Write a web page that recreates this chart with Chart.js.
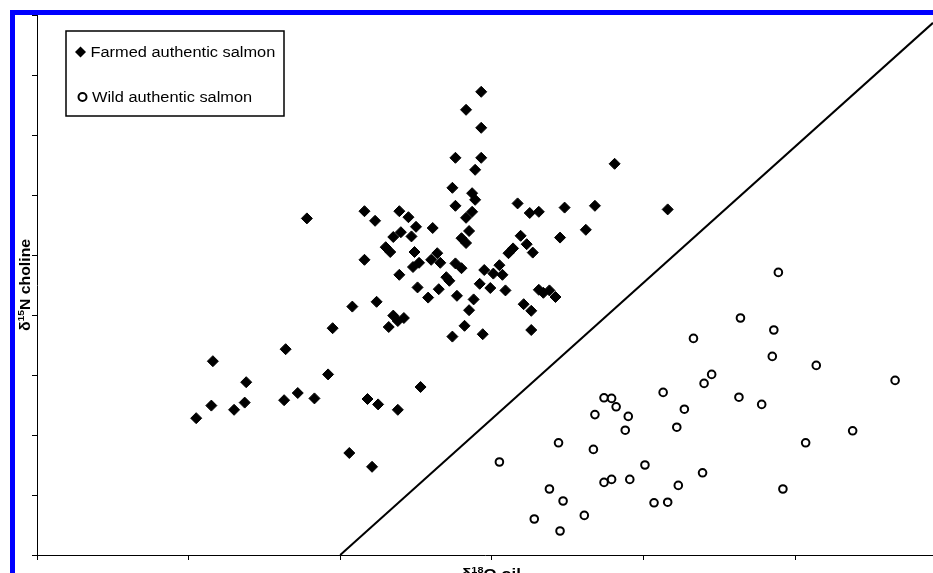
<!DOCTYPE html>
<html>
<head>
<meta charset="utf-8">
<script src="https://cdn.jsdelivr.net/npm/chart.js@4"></script>
<style>
html, body { margin: 0; padding: 0; background: #fff; overflow: hidden; }
#wrap { position: relative; width: 933px; height: 573px; }
</style>
</head>
<body>
<div id="wrap"><canvas id="salmon-graph" width="933" height="573"></canvas></div>
<script>
// axis units: one tick interval = 1 (the original has no tick labels)
const farmedX = [2.93, 2.83, 2.93, 2.76, 2.93, 2.89, 2.74, 2.87, 2.89, 2.76, 2.87, 2.83,
    2.16, 2.39, 2.45, 2.23, 2.50, 2.61, 2.40, 2.35, 2.47, 2.85, 2.80, 2.83, 2.30, 2.33,
    2.49, 2.64, 2.60, 2.66, 2.52, 2.48, 2.16, 2.76, 2.80, 2.39, 2.70, 2.72, 2.95, 3.01,
    3.05, 2.92, 2.99, 2.51, 2.65, 2.58, 2.77, 2.88, 2.08, 2.24, 2.85, 2.35, 2.42, 2.38,
    2.32, 2.82, 2.74, 2.94, 3.81, 3.17, 3.25, 3.31, 3.48, 3.68, 4.16, 3.62, 3.45, 3.19,
    3.23, 3.27, 3.14, 3.11, 3.07, 3.09, 3.31, 3.34, 3.38, 3.42, 3.21, 3.26, 3.26, 1.16,
    1.64, 1.38, 1.92, 1.15, 1.05, 1.30, 1.37, 1.63, 1.72, 1.83, 2.18, 2.25, 2.38, 2.53,
    2.06, 2.21, 1.95, 1.78];
const farmedY = [7.72, 7.42, 7.12, 6.62, 6.62, 6.42, 6.12, 6.03, 5.92, 5.82, 5.72, 5.62,
    5.73, 5.73, 5.63, 5.57, 5.47, 5.45, 5.38, 5.30, 5.31, 5.40, 5.28, 5.20, 5.13, 5.05,
    5.05, 5.03, 4.92, 4.87, 4.87, 4.80, 4.92, 4.86, 4.78, 4.67, 4.63, 4.57, 4.75, 4.69,
    4.83, 4.52, 4.45, 4.46, 4.43, 4.29, 4.32, 4.26, 4.14, 4.22, 4.08, 3.99, 3.95, 3.90,
    3.80, 3.82, 3.64, 3.68, 6.52, 5.86, 5.70, 5.72, 5.79, 5.82, 5.76, 5.42, 5.29, 5.32,
    5.18, 5.04, 5.11, 5.03, 4.67, 4.41, 4.42, 4.37, 4.41, 4.30, 4.18, 4.07, 3.75, 3.23,
    3.43, 2.88, 3.01, 2.49, 2.28, 2.42, 2.54, 2.58, 2.70, 2.61, 2.60, 2.51, 2.42, 2.80,
    1.70, 1.47, 3.78, 5.61];

const wildX = [4.89, 4.64, 4.86, 4.33, 4.85, 5.14, 4.45, 4.40, 5.66, 4.13, 3.74, 3.79,
    4.63, 4.78, 3.82, 3.68, 3.90, 4.27, 4.22, 3.88, 5.38, 3.44, 5.07, 3.67, 3.05, 4.01,
    4.39, 3.74, 3.79, 3.91, 4.23, 3.38, 4.92, 3.47, 4.07, 4.16, 3.61, 3.28, 3.45];
const wildY = [4.71, 3.95, 3.75, 3.61, 3.31, 3.16, 3.01, 2.86, 2.91, 2.71, 2.62, 2.61,
    2.63, 2.51, 2.47, 2.34, 2.31, 2.43, 2.13, 2.08, 2.07, 1.87, 1.87, 1.76, 1.55, 1.50,
    1.37, 1.21, 1.26, 1.26, 1.16, 1.10, 1.10, 0.90, 0.87, 0.88, 0.66, 0.60, 0.40];

// separating line
const lineX = [2.0, 5.91];
const lineY = [0, 8.87];

const xMin = 0, xMax = 5.91, xStep = 1;
const yMin = 0, yMax = 9, yStep = 1;

const seriesNames = ["Farmed authentic salmon", "Wild authentic salmon"];

function toPoints(xs, ys) {
    let pts = Array(xs.length);
    for (let i = 0; i < xs.length; i++) {
        pts[i] = { x: xs[i], y: ys[i] };
    }
    return pts;
}

// draws text stretched along its own direction, with superscript parts
function drawRich(ctx, parts, size, stretch) {
    let total = 0;
    for (let p of parts) {
        ctx.font = "bold " + (p[1] ? size * 0.65 : size) + "px 'Liberation Sans', Arial, sans-serif";
        p.w = ctx.measureText(p[0]).width;
        total += p.w;
    }
    ctx.scale(stretch, 1);
    let x = -total / 2;
    for (let p of parts) {
        ctx.font = "bold " + (p[1] ? size * 0.65 : size) + "px 'Liberation Sans', Arial, sans-serif";
        ctx.fillText(p[0], x, p[1] ? -size * 0.42 : 0);
        x += p.w;
    }
}

const decor = {
    id: "decor",
    afterDraw(chart) {
        let ctx = chart.ctx;
        let area = chart.chartArea;
        ctx.save();
        ctx.fillStyle = "#000";
        ctx.textBaseline = "alphabetic";

        // y title
        ctx.save();
        ctx.translate(29.5, (area.top + area.bottom) / 2);
        ctx.rotate(-Math.PI / 2);
        drawRich(ctx, [["δ", false], ["15", true], ["N choline", false]], 14, 1.13);
        ctx.restore();

        // x title (mostly cut off at the bottom edge)
        ctx.save();
        ctx.translate((area.left + area.right) / 2 + 6, 579);
        drawRich(ctx, [["δ", false], ["18", true], ["O oil", false]], 14, 1.2);
        ctx.restore();

        // legend box
        ctx.fillStyle = "#fff";
        ctx.fillRect(66, 31, 218, 85);
        ctx.strokeStyle = "#000";
        ctx.lineWidth = 1.5;
        ctx.strokeRect(66, 31, 218, 85);

        ctx.fillStyle = "#000";
        ctx.beginPath();
        ctx.moveTo(75, 52); ctx.lineTo(80.5, 46.5); ctx.lineTo(86, 52); ctx.lineTo(80.5, 57.5);
        ctx.closePath();
        ctx.fill();

        ctx.beginPath();
        ctx.arc(82.5, 97, 4, 0, Math.PI * 2);
        ctx.lineWidth = 2;
        ctx.stroke();

        ctx.font = "14px 'Liberation Sans', Arial, sans-serif";
        ctx.save();
        ctx.translate(90.5, 57);
        ctx.scale(1.17, 1);
        ctx.fillText(seriesNames[0], 0, 0);
        ctx.restore();
        ctx.save();
        ctx.translate(92, 102);
        ctx.scale(1.17, 1);
        ctx.fillText(seriesNames[1], 0, 0);
        ctx.restore();

        // blue frame
        ctx.fillStyle = "#0000ff";
        ctx.fillRect(10, 10, 923, 5);
        ctx.fillRect(10, 10, 5, 563);
        ctx.restore();
    }
};

new Chart(document.getElementById("salmon-graph"), {
    type: "scatter",
    data: {
        datasets: [{
            label: seriesNames[0],
            data: toPoints(farmedX, farmedY),
            pointStyle: "rectRot",
            pointRadius: 5.5,
            backgroundColor: "#000",
            borderColor: "#000",
            borderWidth: 1
        }, {
            label: seriesNames[1],
            data: toPoints(wildX, wildY),
            pointStyle: "circle",
            pointRadius: 3.8,
            backgroundColor: "#fff",
            borderColor: "#000",
            borderWidth: 2
        }, {
            type: "line",
            label: "boundary",
            data: toPoints(lineX, lineY),
            showLine: true,
            pointRadius: 0,
            borderColor: "#000",
            borderWidth: 2,
            fill: false
        }]
    },
    options: {
        responsive: false,
        animation: false,
        events: [],
        layout: { autoPadding: false, padding: { left: 0, top: 15, right: 0, bottom: 0 } },
        plugins: { legend: { display: false }, tooltip: { enabled: false } },
        scales: {
            x: {
                type: "linear",
                min: xMin,
                max: xMax,
                ticks: { display: false, stepSize: xStep, includeBounds: false },
                grid: { drawOnChartArea: false, drawTicks: true, tickLength: 5, color: "#000" },
                border: { display: true, color: "#000", width: 1 },
                afterFit: function (scale) { scale.height = 18; }
            },
            y: {
                type: "linear",
                min: yMin,
                max: yMax,
                ticks: { display: false, stepSize: yStep },
                grid: { drawOnChartArea: false, drawTicks: true, tickLength: 5, color: "#000" },
                border: { display: true, color: "#000", width: 1 },
                afterFit: function (scale) { scale.width = 37; }
            }
        }
    },
    plugins: [decor]
});
</script>
</body>
</html>
